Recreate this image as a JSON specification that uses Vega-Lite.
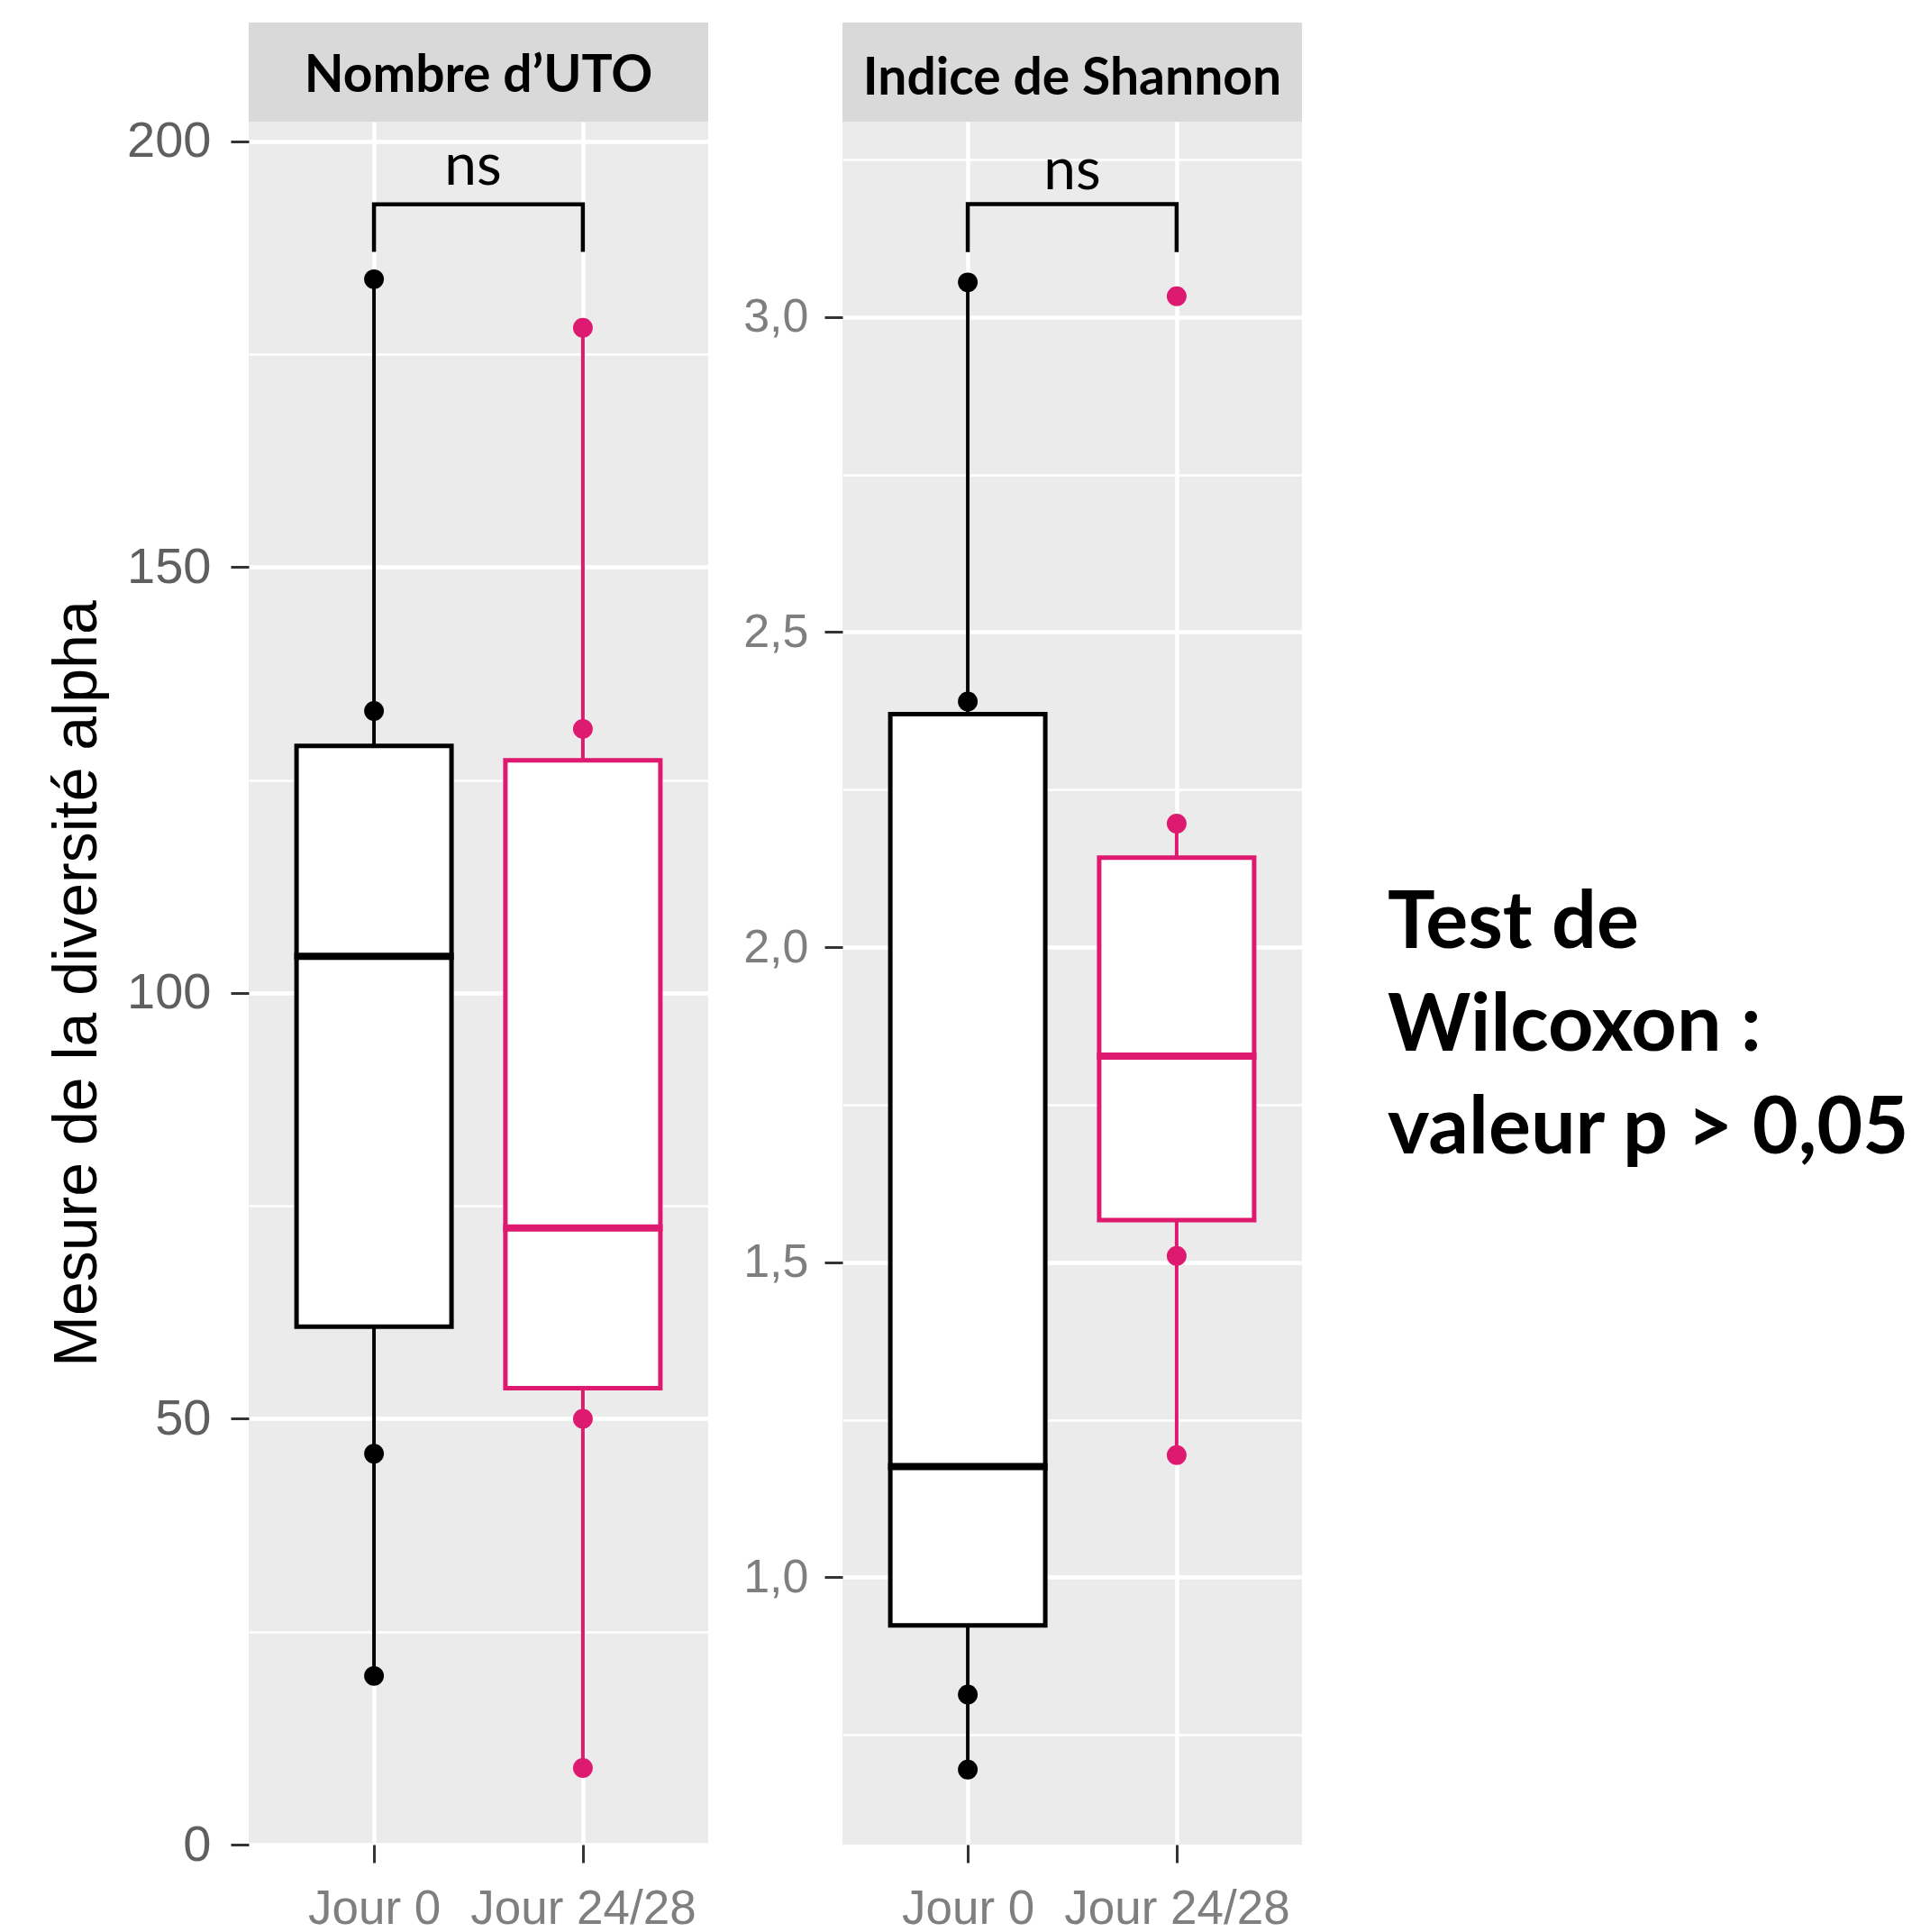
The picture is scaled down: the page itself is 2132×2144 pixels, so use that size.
{
  "$schema": "https://vega.github.io/schema/vega-lite/v6.json",
  "padding": {"left": 52, "top": 25, "right": 5, "bottom": 5},
  "background": "white",
  "datasets": {
    "stats": [
      {"panel": "A", "grp": "Jour 0", "lo": 19.8, "q1": 60.8, "med": 104.3, "q3": 129.0, "hi": 183.8},
      {"panel": "A", "grp": "Jour 24/28", "lo": 9.0, "q1": 53.6, "med": 72.4, "q3": 127.3, "hi": 178.1},
      {"panel": "B", "grp": "Jour 0", "lo": 0.695, "q1": 0.924, "med": 1.176, "q3": 2.370, "hi": 3.055},
      {"panel": "B", "grp": "Jour 24/28", "lo": 1.194, "q1": 1.567, "med": 1.827, "q3": 2.142, "hi": 2.196}
    ],
    "pts": [
      {"panel": "A", "grp": "Jour 0", "v": 183.8},
      {"panel": "A", "grp": "Jour 0", "v": 133.1},
      {"panel": "A", "grp": "Jour 0", "v": 45.9},
      {"panel": "A", "grp": "Jour 0", "v": 19.8},
      {"panel": "A", "grp": "Jour 24/28", "v": 178.1},
      {"panel": "A", "grp": "Jour 24/28", "v": 131.0},
      {"panel": "A", "grp": "Jour 24/28", "v": 50.0},
      {"panel": "A", "grp": "Jour 24/28", "v": 9.0},
      {"panel": "B", "grp": "Jour 0", "v": 3.055},
      {"panel": "B", "grp": "Jour 0", "v": 2.390},
      {"panel": "B", "grp": "Jour 0", "v": 0.814},
      {"panel": "B", "grp": "Jour 0", "v": 0.695},
      {"panel": "B", "grp": "Jour 24/28", "v": 3.033},
      {"panel": "B", "grp": "Jour 24/28", "v": 2.196},
      {"panel": "B", "grp": "Jour 24/28", "v": 1.510},
      {"panel": "B", "grp": "Jour 24/28", "v": 1.194}
    ],
    "bracket": [
      {"panel": "A", "grp": "Jour 0", "y": 187.0, "o": 1},
      {"panel": "A", "grp": "Jour 0", "y": 192.6, "o": 2},
      {"panel": "A", "grp": "Jour 24/28", "y": 192.6, "o": 3},
      {"panel": "A", "grp": "Jour 24/28", "y": 187.0, "o": 4},
      {"panel": "B", "grp": "Jour 0", "y": 3.103, "o": 1},
      {"panel": "B", "grp": "Jour 0", "y": 3.179, "o": 2},
      {"panel": "B", "grp": "Jour 24/28", "y": 3.179, "o": 3},
      {"panel": "B", "grp": "Jour 24/28", "y": 3.103, "o": 4}
    ],
    "ns": [
      {"panel": "A", "grp": "Jour 0", "y": 194.9, "t": "ns"},
      {"panel": "B", "grp": "Jour 0", "y": 3.203, "t": "ns"}
    ]
  },
  "hconcat": [
    {
      "vconcat": [
        {
          "width": 510, "height": 110,
          "view": {"fill": "#d9d9d9", "stroke": null},
          "data": {"values": [{"s": "Nombre d’UTO"}]},
          "mark": {"type": "text", "font": "Lato", "fontWeight": "bold", "fontSize": 57, "color": "black", "baseline": "middle", "dy": 5},
          "encoding": {"text": {"field": "s"}}
        },
        {
          "width": 510, "height": 1912,
          "encoding": {
            "x": {"field": "grp", "type": "nominal", "scale": {"type": "point", "padding": 0.6, "domain": ["Jour 0", "Jour 24/28"]},
                  "axis": {"title": null, "labelFontSize": 53, "labelColor": "#7f7f7f", "labelPadding": 25, "labelAngle": 0, "labelLimit": 0, "labelOverlap": false, "gridWidth": 4.5}}
          },
          "layer": [
            {
              "data": {"name": "stats"},
              "transform": [{"filter": "datum.panel === 'A'"}],
              "mark": {"type": "rule", "strokeWidth": 4},
              "encoding": {
                "y": {"field": "lo", "type": "quantitative", "scale": {"domain": [0, 202.3], "nice": false, "zero": false},
                      "axis": {"values": [0, 25, 50, 75, 100, 125, 150, 175, 200],
                               "labelExpr": "datum.value % 50 === 0 ? datum.label : ''",
                               "tickOpacity": {"condition": {"test": "datum.value % 50 === 0", "value": 1}, "value": 0},
                               "gridWidth": {"condition": {"test": "datum.value % 50 === 0", "value": 4.5}, "value": 2.3},
                               "labelFontSize": 56, "labelColor": "#5f5f5f", "labelPadding": 22,
                               "title": "Mesure de la diversité alpha", "titleFontSize": 68, "titleColor": "black",
                               "titleFontWeight": "normal", "titlePadding": 20}},
                "y2": {"field": "hi"},
                "color": {"field": "grp", "type": "nominal", "scale": {"domain": ["Jour 0", "Jour 24/28"], "range": ["#000000", "#dd1a70"]}, "legend": null}
              }
            },
            {
              "data": {"name": "stats"},
              "transform": [{"filter": "datum.panel === 'A'"}],
              "mark": {"type": "bar", "fill": "white", "strokeWidth": 5, "size": 172},
              "encoding": {
                "y": {"field": "q1", "type": "quantitative"},
                "y2": {"field": "q3"},
                "stroke": {"field": "grp", "type": "nominal", "scale": {"domain": ["Jour 0", "Jour 24/28"], "range": ["#000000", "#dd1a70"]}, "legend": null}
              }
            },
            {
              "data": {"name": "stats"},
              "transform": [{"filter": "datum.panel === 'A'"}],
              "mark": {"type": "tick", "thickness": 8, "size": 177, "opacity": 1},
              "encoding": {
                "y": {"field": "med", "type": "quantitative"},
                "color": {"field": "grp", "type": "nominal", "legend": null}
              }
            },
            {
              "data": {"name": "pts"},
              "transform": [{"filter": "datum.panel === 'A'"}],
              "mark": {"type": "circle", "size": 480, "opacity": 1},
              "encoding": {
                "y": {"field": "v", "type": "quantitative"},
                "color": {"field": "grp", "type": "nominal", "legend": null}
              }
            },
            {
              "data": {"name": "bracket"},
              "transform": [{"filter": "datum.panel === 'A'"}],
              "mark": {"type": "line", "color": "black", "strokeWidth": 4.5},
              "encoding": {
                "y": {"field": "y", "type": "quantitative"},
                "order": {"field": "o", "type": "quantitative"}
              }
            },
            {
              "data": {"name": "ns"},
              "transform": [{"filter": "datum.panel === 'A'"}],
              "mark": {"type": "text", "font": "Lato", "fontSize": 64, "color": "black", "baseline": "alphabetic", "align": "center", "dx": 110},
              "encoding": {
                "y": {"field": "y", "type": "quantitative"},
                "text": {"field": "t"}
              }
            }
          ]
        }
      ],
      "spacing": 0,
      "bounds": "flush"
    },
    {
      "vconcat": [
        {
          "width": 510, "height": 110,
          "view": {"fill": "#d9d9d9", "stroke": null},
          "data": {"values": [{"s": "Indice de Shannon"}]},
          "mark": {"type": "text", "font": "Lato", "fontWeight": "bold", "fontSize": 57, "color": "black", "baseline": "middle", "dy": 8},
          "encoding": {"text": {"field": "s"}}
        },
        {
          "width": 510, "height": 1912,
          "encoding": {
            "x": {"field": "grp", "type": "nominal", "scale": {"type": "point", "padding": 0.6, "domain": ["Jour 0", "Jour 24/28"]},
                  "axis": {"title": null, "labelFontSize": 53, "labelColor": "#7f7f7f", "labelPadding": 25, "labelAngle": 0, "labelLimit": 0, "labelOverlap": false, "gridWidth": 4.5}}
          },
          "layer": [
            {
              "data": {"name": "stats"},
              "transform": [{"filter": "datum.panel === 'B'"}],
              "mark": {"type": "rule", "strokeWidth": 4},
              "encoding": {
                "y": {"field": "lo", "type": "quantitative", "scale": {"domain": [0.576, 3.31], "nice": false, "zero": false},
                      "axis": {"values": [0.75, 1, 1.25, 1.5, 1.75, 2, 2.25, 2.5, 2.75, 3, 3.25],
                               "labelExpr": "abs(datum.value*2 - round(datum.value*2)) < 0.001 ? replace(format(datum.value, '.1f'), '.', ',') : ''",
                               "tickOpacity": {"condition": {"test": "abs(datum.value*2 - round(datum.value*2)) < 0.001", "value": 1}, "value": 0},
                               "gridWidth": {"condition": {"test": "abs(datum.value*2 - round(datum.value*2)) < 0.001", "value": 4.5}, "value": 2.3},
                               "labelFontSize": 52, "labelColor": "#7f7f7f", "labelPadding": 18, "title": null}},
                "y2": {"field": "hi"},
                "color": {"field": "grp", "type": "nominal", "legend": null}
              }
            },
            {
              "data": {"name": "stats"},
              "transform": [{"filter": "datum.panel === 'B'"}],
              "mark": {"type": "bar", "fill": "white", "strokeWidth": 5, "size": 172},
              "encoding": {
                "y": {"field": "q1", "type": "quantitative"},
                "y2": {"field": "q3"},
                "stroke": {"field": "grp", "type": "nominal", "legend": null}
              }
            },
            {
              "data": {"name": "stats"},
              "transform": [{"filter": "datum.panel === 'B'"}],
              "mark": {"type": "tick", "thickness": 8, "size": 177, "opacity": 1},
              "encoding": {
                "y": {"field": "med", "type": "quantitative"},
                "color": {"field": "grp", "type": "nominal", "legend": null}
              }
            },
            {
              "data": {"name": "pts"},
              "transform": [{"filter": "datum.panel === 'B'"}],
              "mark": {"type": "circle", "size": 480, "opacity": 1},
              "encoding": {
                "y": {"field": "v", "type": "quantitative"},
                "color": {"field": "grp", "type": "nominal", "legend": null}
              }
            },
            {
              "data": {"name": "bracket"},
              "transform": [{"filter": "datum.panel === 'B'"}],
              "mark": {"type": "line", "color": "black", "strokeWidth": 4.5},
              "encoding": {
                "y": {"field": "y", "type": "quantitative"},
                "order": {"field": "o", "type": "quantitative"}
              }
            },
            {
              "data": {"name": "ns"},
              "transform": [{"filter": "datum.panel === 'B'"}],
              "mark": {"type": "text", "font": "Lato", "fontSize": 64, "color": "black", "baseline": "alphabetic", "align": "center", "dx": 116},
              "encoding": {
                "y": {"field": "y", "type": "quantitative"},
                "text": {"field": "t"}
              }
            }
          ]
        }
      ],
      "spacing": 0,
      "bounds": "flush"
    },
    {
      "width": 114, "height": 2022,
      "view": {"fill": "transparent", "stroke": null},
      "data": {"values": [{"t": "Test de\nWilcoxon :\nvaleur p > 0,05"}]},
      "mark": {"type": "text", "font": "Lato", "fontWeight": "bold", "fontSize": 88, "color": "black", "align": "left", "baseline": "middle", "lineBreak": "\n", "lineHeight": 114, "dy": -10},
      "encoding": {"text": {"field": "t"}}
    }
  ],
  "spacing": 38,
  "bounds": "full",
  "config": {
    "view": {"fill": "#ebebeb", "stroke": null},
    "axis": {
      "domain": false, "grid": true, "gridColor": "white",
      "labelFont": "Liberation Sans", "titleFont": "Liberation Sans",
      "tickColor": "#333333", "tickWidth": 3, "tickSize": 20
    }
  }
}
